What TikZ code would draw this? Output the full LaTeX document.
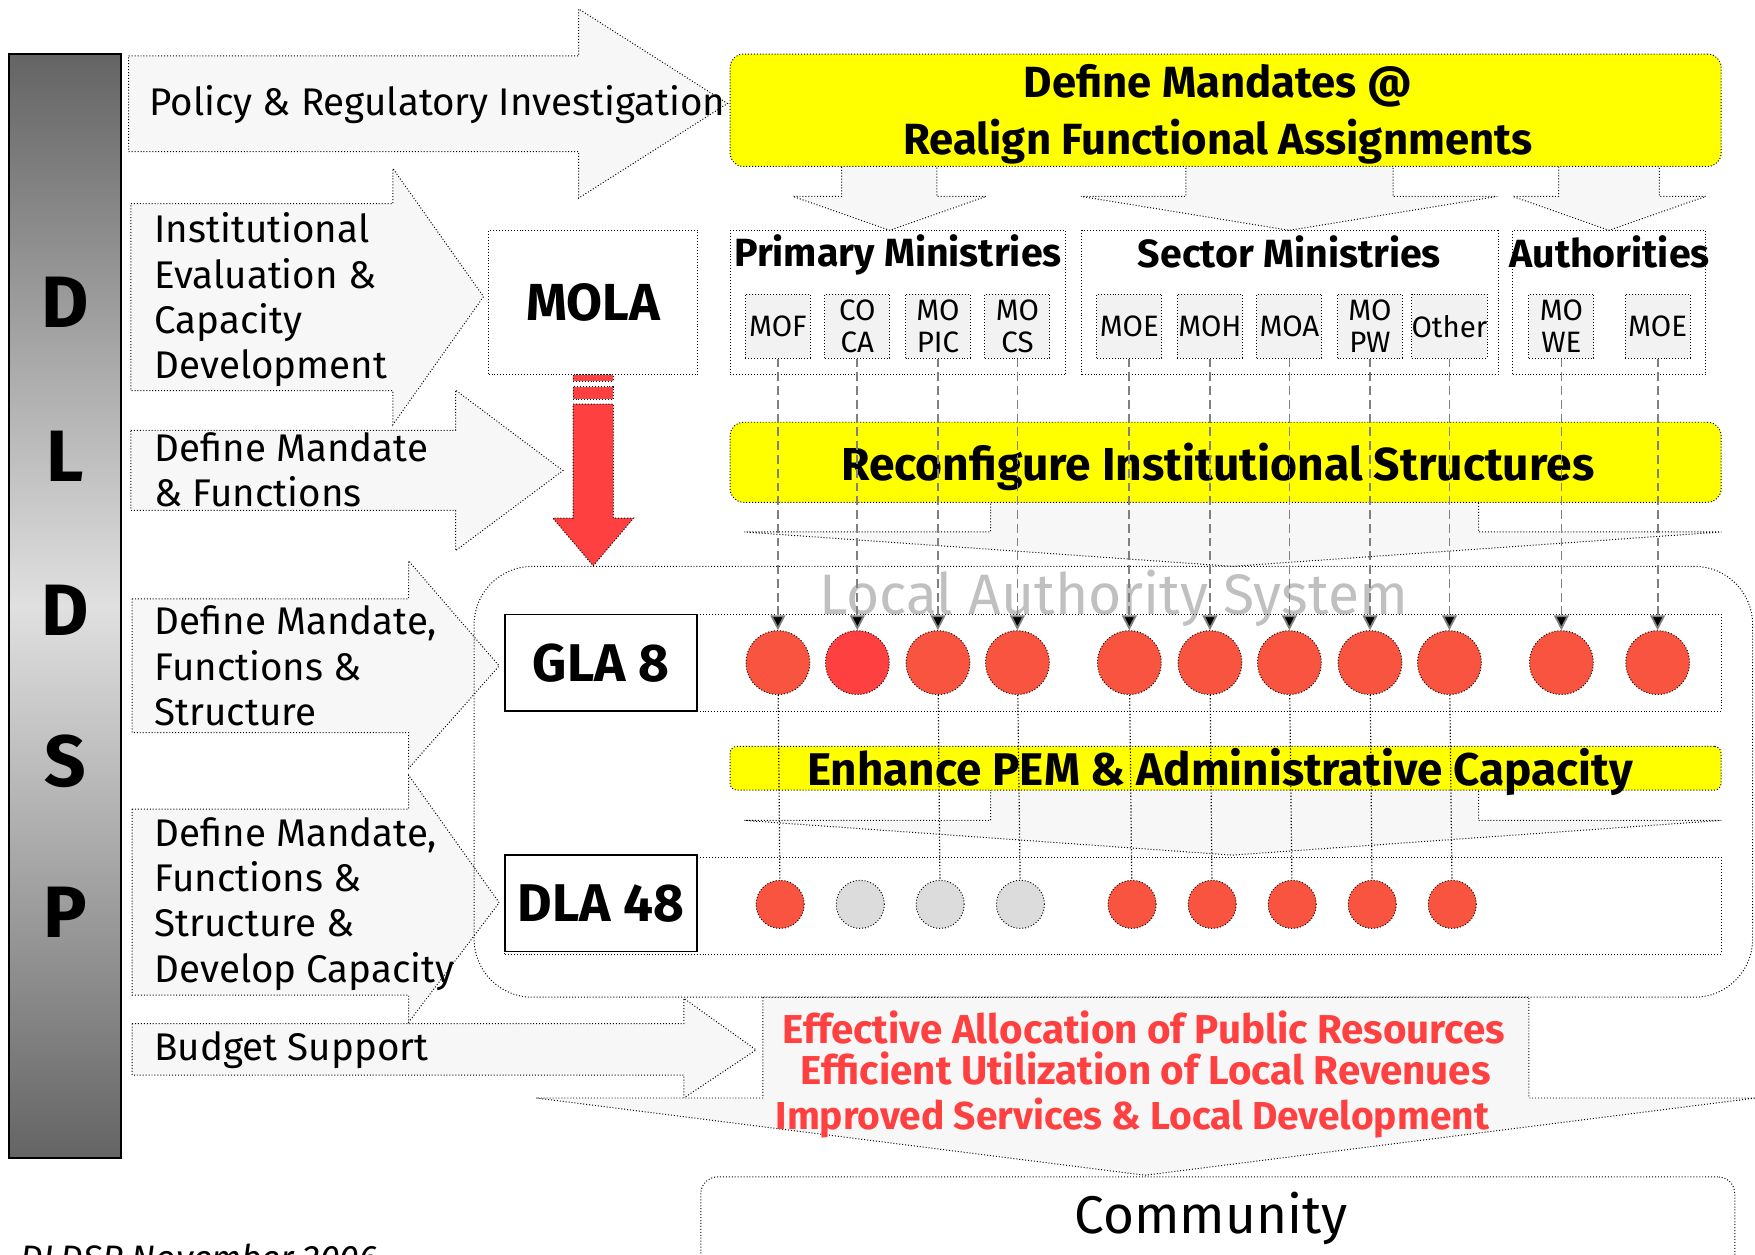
\documentclass[tikz,border=0pt]{standalone}
\usepackage{fontspec}
\setmainfont{Fira Sans}
\usepackage{tikz}
\usetikzlibrary{arrows.meta}

\definecolor{palegray}{HTML}{F7F7F7}
\definecolor{boxgray}{HTML}{F2F2F2}
\definecolor{mandate}{HTML}{FFFF00}
\definecolor{lacircle}{HTML}{F95440}
\definecolor{hotred}{HTML}{FF4040}
\definecolor{offgray}{HTML}{DCDCDC}
\definecolor{lasgray}{HTML}{C0C0C0}
\definecolor{bardark}{HTML}{646464}
\definecolor{barlight}{HTML}{E0E0E0}

\begin{document}
\begin{tikzpicture}[x=0.02cm, y=-0.02cm,
		fat/.style={fill=palegray, draw=black, densely dotted, line width=0.5pt},
		lbl/.style={anchor=west, align=left, inner sep=0pt, font=\fontsize{19.6}{23}\selectfont},
		yel/.style={fill=mandate, draw=black, densely dotted, line width=0.5pt, rounded corners=0.24cm, minimum width=17.71cm},
		bigtxt/.style={inner sep=0pt, align=center, font=\bfseries\fontsize{23.5}{29}\selectfont},
		grp/.style={draw=black, densely dotted, line width=0.5pt, minimum height=2.58cm},
		grptitle/.style={inner sep=0pt, font=\bfseries\fontsize{20}{24}\selectfont},
		mini/.style={fill=boxgray, draw=black, densely dotted, line width=0.5pt, minimum width=1.16cm, minimum height=1.14cm, inner sep=0pt, align=center, font=\fontsize{15}{16.3}\selectfont},
		la/.style={draw=black, line width=0.8pt, fill=white, minimum width=3.43cm, minimum height=1.73cm, inner sep=0pt, font=\bfseries\fontsize{27}{30}\selectfont},
		row/.style={draw=black, densely dotted, line width=0.5pt, minimum width=21.74cm, minimum height=1.73cm},
		gla/.style={circle, fill=lacircle, draw=black, densely dotted, line width=0.5pt, minimum size=1.14cm, inner sep=0pt},
		dla/.style={gla, minimum size=0.86cm},
		offdot/.style={dla, fill=offgray},
		conn/.style={draw=gray, line width=0.9pt, dash pattern=on 4.5pt off 2.5pt, -{Triangle[width=7.5pt,length=7.5pt]}},
		link/.style={draw=black, densely dotted, line width=0.6pt},
		outcome/.style={text=hotred, inner sep=0pt, font=\bfseries\fontsize{20.5}{24}\selectfont},
		dl/.style={inner sep=0pt, font=\bfseries\fontsize{37}{40}\selectfont}
	]
	\useasboundingbox (0,0) rectangle (1568,1121);
	\clip (0,0) rectangle (1568,1121);

	% DLDSP bar
	\node[draw=black, line width=1pt, top color=bardark, bottom color=bardark, middle color=barlight, minimum width=2cm, minimum height=19.74cm] (bar) at (58,541.5) {};
	\node[dl] (l1) at (58,270) {D};
	\node[dl] (l2) at (58,408) {L};
	\node[dl] (l3) at (58,545) {D};
	\node[dl] (l4) at (58,680) {S};
	\node[dl] (l5) at (58,815) {P};

	% left arrows
	\draw[fat] (115,50) -- (517,50) -- (517,8) -- (650,92.5) -- (517,177) -- (517,135.5) -- (115,135.5) -- cycle;
	\draw[fat] (117,182) -- (351,182) -- (351,150.5) -- (432,265) -- (351,379.5) -- (351,349) -- (117,349) -- cycle;
	\draw[fat] (117,384.5) -- (407,384.5) -- (407,348.5) -- (503,420.5) -- (407,492) -- (407,456) -- (117,456) -- cycle;
	\draw[fat] (118,535) -- (365,535) -- (365,501) -- (446,595) -- (365,686.5) -- (365,654.5) -- (118,654.5) -- cycle;
	\draw[fat] (118,723) -- (365,723) -- (365,692.5) -- (446,806.5) -- (365,913.5) -- (365,889) -- (118,889) -- cycle;
	\draw[fat] (118,914.5) -- (611,914.5) -- (611,892) -- (675.5,938) -- (611,981) -- (611,960.5) -- (118,960.5) -- cycle;

	\node[lbl] (policy) at (133,93) {Policy \& Regulatory Investigation};
	\node[lbl] (insteval) at (137.7,267.8) {Institutional\\Evaluation \&\\Capacity\\Development};
	\node[lbl] (mandfun) at (137.7,420) {Define Mandate\\\& Functions};
	\node[lbl] (glafun) at (137.7,595) {Define Mandate,\\Functions \&\\Structure};
	\node[lbl] (dlafun) at (137.7,807.6) {Define Mandate,\\Functions \&\\Structure \&\\Develop Capacity};
	\node[lbl] (budget) at (137.7,938) {Budget Support};

	% mandates
	\draw[fat] (752,140) -- (837,140) -- (837,175.5) -- (881,175.5) -- (795,205.8) -- (708.5,175.5) -- (752,175.5) -- cycle;
	\draw[fat] (1059.5,140) -- (1244.6,140) -- (1244.6,175.5) -- (1337.8,175.5) -- (1152,205.8) -- (965.8,175.5) -- (1059.5,175.5) -- cycle;
	\draw[fat] (1392.5,140) -- (1482.6,140) -- (1482.6,175.5) -- (1524,175.5) -- (1437.5,205.8) -- (1351.6,175.5) -- (1392.5,175.5) -- cycle;
	\node[yel, minimum height=2.01cm] (mandates) at (1095,98.5) {};
	\node[bigtxt, font=\bfseries\fontsize{22.2}{29}\selectfont] (mandtxt) at (1088,102) {Define Mandates @\\Realign Functional Assignments};

	\node[grp, minimum width=5.99cm] (primary) at (802.3,270.4) {};
	\node[grp, minimum width=7.44cm] (sector) at (1152.4,270.4) {};
	\node[grp, minimum width=3.45cm] (auth) at (1437.8,270.4) {};
	\node[grptitle] (primtxt) at (802.3,228) {Primary Ministries};
	\node[grptitle] (sectxt) at (1152,225) {Sector Ministries};
	\node[grptitle] (authtxt) at (1438,225) {Authorities};

	\node[mini] (mof) at (695,291.5) {MOF};
	\node[mini] (coca) at (766,291.5) {CO\\CA};
	\node[mini] (mopic) at (838,291.5) {MO\\PIC};
	\node[mini] (mocs) at (909,291.5) {MO\\CS};
	\node[mini] (moe) at (1009,291.5) {MOE};
	\node[mini] (moh) at (1081,291.5) {MOH};
	\node[mini] (moa) at (1152,291.5) {MOA};
	\node[mini] (mopw) at (1224,291.5) {MO\\PW};
	\node[mini] (other) at (1295,291.5) {Other};
	\node[mini] (mowe) at (1395,291.5) {MO\\WE};
	\node[mini] (moen) at (1481,291.5) {MOE};

	% MOLA
	\node[draw=black, densely dotted, line width=0.5pt, fill=white, minimum width=3.74cm, minimum height=2.58cm, font=\bfseries\fontsize{26.5}{30}\selectfont] (mola) at (530,270.4) {MOLA};
	\draw[densely dotted, line width=0.5pt, fill=hotred] (512,335) rectangle (548,340.5);
	\draw[densely dotted, line width=0.5pt, fill=hotred] (512,345.6) rectangle (548,356.6);
	\draw[densely dotted, line width=0.5pt, fill=hotred] (512,361) -- (548,361) -- (548,463) -- (566,463) -- (530,505.5) -- (494,463) -- (512,463) -- cycle;

	% reconfigure
	\draw[fat] (885,440) -- (1321,440) -- (1321,475.3) -- (1538,475.3) -- (1101,506) -- (665,475.3) -- (885,475.3) -- cycle;
	\node[yel, minimum height=1.43cm] (reconf) at (1095,413) {};
	\node[bigtxt] (reconftxt) at (1088,417) {Reconfigure Institutional Structures};

	% local authority system
	\node[draw=black, densely dotted, line width=0.5pt, rounded corners=1.04cm, minimum width=22.85cm, minimum height=7.7cm] (las) at (994.75,698.5) {};
	\node[text=lasgray, inner sep=0pt, font=\fontsize{29}{32}\selectfont] (lastxt) at (995,535) {Local Authority System};

	\node[row] (glarow) at (994.5,592.2) {};
	\node[la] (gla) at (536.9,592.2) {GLA 8};
	\node[row] (dlarow) at (994.5,809.2) {};
	\node[la] (dla) at (536.9,807) {DLA 48};

	\draw[fat] (885,700) -- (1321,700) -- (1321,733) -- (1538,733) -- (1101,764) -- (665,733) -- (885,733) -- cycle;
	\node[yel, minimum height=0.78cm, rounded corners=0.12cm] (pem) at (1095,686.4) {};
	\node[bigtxt, font=\bfseries\fontsize{23.3}{29}\selectfont] (pemtxt) at (1090,689.5) {Enhance PEM \& Administrative Capacity};

	\node[gla] (g1) at (695,592) {};
	\node[gla, fill=hotred] (g2) at (766,592) {};
	\node[gla] (g3) at (838,592) {};
	\node[gla] (g4) at (909,592) {};
	\node[gla] (g5) at (1009,592) {};
	\node[gla] (g6) at (1081,592) {};
	\node[gla] (g7) at (1152,592) {};
	\node[gla] (g8) at (1224,592) {};
	\node[gla] (g9) at (1295,592) {};
	\node[gla] (g10) at (1395,592) {};
	\node[gla] (g11) at (1481,592) {};

	\node[dla] (d1) at (697,808) {};
	\node[offdot] (d2) at (768.6,808) {};
	\node[offdot] (d3) at (840,808) {};
	\node[offdot] (d4) at (911.7,808) {};
	\node[dla] (d5) at (1011.4,808) {};
	\node[dla] (d6) at (1083,808) {};
	\node[dla] (d7) at (1154.5,808) {};
	\node[dla] (d8) at (1226,808) {};
	\node[dla] (d9) at (1297.5,808) {};

	\path[conn] (mof) edge (g1);
	\path[conn] (coca) edge (g2);
	\path[conn] (mopic) edge (g3);
	\path[conn] (mocs) edge (g4);
	\path[conn] (moe) edge (g5);
	\path[conn] (moh) edge (g6);
	\path[conn] (moa) edge (g7);
	\path[conn] (mopw) edge (g8);
	\path[conn] (other) edge (g9);
	\path[conn] (mowe) edge (g10);
	\path[conn] (moen) edge (g11);

	\path[link] (g1) edge (d1);
	\path[link] (g3) edge (d3);
	\path[link] (g4) edge (d4);
	\path[link] (g5) edge (d5);
	\path[link] (g6) edge (d6);
	\path[link] (g7) edge (d7);
	\path[link] (g8) edge (d8);
	\path[link] (g9) edge (d9);

	% outcomes
	\draw[fat] (681.5,891) -- (1366,891) -- (1366,981) -- (1568.5,981) -- (1023,1050) -- (479,981) -- (681.5,981) -- cycle;
	\node[outcome] (eff1) at (1022,918) {Effective Allocation of Public Resources};
	\node[outcome] (eff2) at (1023.7,955) {Efficient Utilization of Local Revenues};
	\node[outcome, font=\bfseries\fontsize{19.8}{24}\selectfont] (eff3) at (1011.7,999) {Improved Services \& Local Development};

	\node[draw=black, densely dotted, line width=0.5pt, rounded corners=0.3cm, minimum width=18.48cm, minimum height=2.54cm] (community) at (1088,1115) {};
	\node[inner sep=0pt, font=\fontsize{27}{30}\selectfont] (commtxt) at (1082,1089) {Community};

	\node[anchor=base west, inner sep=0pt, font=\itshape\fontsize{18}{20}\selectfont] (footer) at (18,1135) {DLDSP November 2006};
\end{tikzpicture}
\end{document}
